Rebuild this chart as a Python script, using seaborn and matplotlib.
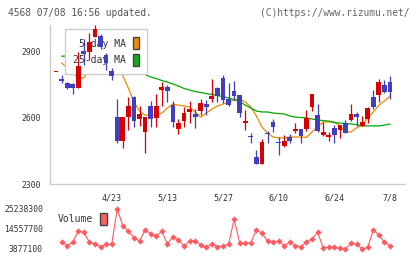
import numpy as np
import pandas as pd
import matplotlib
matplotlib.use("Agg")
import matplotlib.pyplot as plt
from matplotlib.patches import Patch
import seaborn as sns

# ---------------- data ----------------
opens = [2804, 2773, 2755, 2752, 2734, 2900, 2897, 2965, 2969, 2882, 2811,
         2601, 2495, 2604, 2691, 2595, 2536, 2652, 2599, 2725, 2736,
         2656, 2547, 2586, 2626, 2616, 2631, 2661, 2683, 2732, 2777,
         2682, 2720, 2702, 2577, 2517, 2423, 2389, 2532, 2580, 2491,
         2473, 2511, 2540, 2548, 2548, 2649, 2611, 2523, 2513, 2554,
         2544, 2574, 2589, 2616, 2563, 2595, 2691, 2700, 2745, 2760]
highs = [2804, 2792, 2762, 2757, 2894, 2954, 2981, 3017, 2976, 2892, 2823,
         2683, 2601, 2694, 2697, 2652, 2601, 2674, 2706, 2759, 2747,
         2674, 2593, 2647, 2674, 2638, 2682, 2679, 2772, 2739, 2792,
         2754, 2765, 2702, 2634, 2532, 2453, 2503, 2539, 2592, 2511,
         2521, 2524, 2577, 2548, 2634, 2706, 2661, 2581, 2536, 2565,
         2566, 2589, 2661, 2625, 2607, 2646, 2724, 2772, 2769, 2787]
lows = [2804, 2754, 2728, 2706, 2734, 2837, 2859, 2963, 2910, 2814, 2769,
        2486, 2462, 2544, 2559, 2562, 2441, 2559, 2559, 2652, 2671,
        2559, 2526, 2559, 2574, 2554, 2611, 2611, 2671, 2671, 2664,
        2652, 2679, 2601, 2544, 2486, 2389, 2389, 2486, 2536, 2431,
        2468, 2486, 2529, 2486, 2540, 2631, 2536, 2517, 2495, 2486,
        2509, 2529, 2586, 2562, 2563, 2574, 2637, 2671, 2709, 2685]
closes = [2804, 2767, 2733, 2733, 2832, 2888, 2942, 2999, 2917, 2845, 2789,
          2495, 2601, 2652, 2586, 2616, 2601, 2595, 2652, 2736, 2721,
          2581, 2574, 2619, 2638, 2604, 2664, 2649, 2698, 2698, 2679,
          2656, 2698, 2619, 2586, 2511, 2389, 2488, 2524, 2559, 2484,
          2495, 2495, 2548, 2518, 2598, 2706, 2540, 2535, 2521, 2521,
          2566, 2532, 2616, 2604, 2580, 2644, 2649, 2760, 2716, 2716]

ma5 = [np.nan, 2846, 2825, 2800, 2780, 2778, 2826, 2879, 2916, 2918, 2898,
       2840, 2788, 2733, 2670, 2629, 2611, 2611, 2611, 2620, 2643,
       2661, 2656, 2652, 2647, 2625, 2602, 2620, 2638, 2652, 2661,
       2670, 2679, 2683, 2670, 2647, 2607, 2557, 2530, 2512, 2508,
       2508, 2512, 2512, 2512, 2510, 2535, 2557, 2580, 2580, 2580,
       2562, 2535, 2535, 2553, 2566, 2598, 2625, 2656, 2674, 2697]
ma25 = [np.nan, 2877, 2877, 2875, 2875, 2877, 2880, 2882, 2882, 2880, 2876,
        2862, 2850, 2838, 2826, 2805, 2794, 2783, 2776, 2767, 2760,
        2751, 2742, 2731, 2724, 2717, 2713, 2708, 2704, 2699, 2695,
        2688, 2681, 2672, 2656, 2643, 2629, 2625, 2625, 2620, 2618,
        2616, 2607, 2602, 2600, 2598, 2593, 2589, 2586, 2584, 2577,
        2575, 2573, 2571, 2568, 2562, 2562, 2562, 2562, 2566, 2571]

volume = [np.nan, 7780000, 5640000, 7460000, 13500000, 12800000, 7460000,
          6550000, 5110000, 6390000, 6390000, 25240000, 16320000, 13330000,
          9910000, 8150000, 14020000, 12050000, 10820000, 13330000, 6710000,
          10290000, 8680000, 5480000, 8150000, 8150000, 6010000, 4780000,
          6550000, 5110000, 5640000, 6390000, 19740000, 7240000, 6920000,
          7240000, 14020000, 12260000, 8150000, 7460000, 8150000, 5640000,
          7460000, 5640000, 5110000, 7780000, 9220000, 12800000, 4570000,
          4780000, 4780000, 4250000, 3880000, 6920000, 6390000, 3880000,
          4780000, 14020000, 11350000, 7460000, 5640000]

date_labels = ["4/23", "5/13", "5/27", "6/10", "6/24", "7/8"]
date_label_idx = [10, 20, 30, 40, 50, 60]
price_ticks = [2300, 2600, 2900]
volume_ticks = [3877100, 14557700, 25238300]

# ---------------- style ----------------
sns.set_style("white")
plt.rcParams["font.family"] = ["DejaVu Sans Mono", "DejaVu Sans"]

RED = "#d80000"
BLUE = "#3f3fbf"
ORANGE = "#f08a00"
GREEN = "#00a800"
VOLC = "#ff5a60"
AXC = "#cccccc"
TXT = "#333333"

df = pd.DataFrame({"idx": np.arange(len(closes)), "open": opens, "high": highs,
                   "low": lows, "close": closes, "ma5": ma5, "ma25": ma25,
                   "volume": volume})

fig = plt.figure(figsize=(4.2, 2.59), dpi=100)
fig.patch.set_facecolor("white")

W, H = 420.0, 259.0
ax = fig.add_axes([50 / W, 75 / H, 355 / W, 159 / H])
axv = fig.add_axes([50 / W, 5 / H, 355 / W, 52 / H])

xlim = (-1.08, 62.7)

# moving averages
sns.lineplot(data=df, x="idx", y="ma5", ax=ax, color=ORANGE, lw=0.9,
             legend=False, zorder=2)
sns.lineplot(data=df, x="idx", y="ma25", ax=ax, color=GREEN, lw=0.9,
             legend=False, zorder=2)

# candles
up = df["close"] >= df["open"]
cols = np.where(up, RED, BLUE)
body_bottom = np.minimum(df["open"], df["close"])
body_h = np.maximum(np.abs(df["close"] - df["open"]), 4)
ax.vlines(df["idx"], df["low"], df["high"], colors=cols, lw=0.9, zorder=4)
ax.bar(df["idx"], body_h, bottom=body_bottom, width=0.85, color=cols,
       linewidth=0, zorder=4)

ax.set_xlim(*xlim)
ax.set_ylim(2300, 3017.5)
ax.set_xlabel("")
ax.set_ylabel("")
for s in ["top", "right"]:
    ax.spines[s].set_visible(False)
for s in ["left", "bottom"]:
    ax.spines[s].set_color(AXC)
    ax.spines[s].set_linewidth(1)

ax.set_yticks(price_ticks)
ax.set_yticklabels([str(t) for t in price_ticks])
ax.tick_params(axis="y", direction="inout", length=7, width=1, color=AXC,
               labelsize=5.8, labelcolor=TXT, pad=3)
ax.set_xticks(np.linspace(xlim[0], xlim[1], 12))
ax.set_xticklabels([])
ax.tick_params(axis="x", which="major", direction="inout", length=7, width=1,
               color=AXC)
ax.set_xticks(date_label_idx, minor=True)
ax.set_xticklabels(date_labels, minor=True)
ax.tick_params(axis="x", which="minor", length=0, labelsize=6,
               labelcolor=TXT, pad=7)

leg = ax.legend(handles=[Patch(facecolor=ORANGE, edgecolor="#444444", lw=1,
                               label="5-day MA"),
                         Patch(facecolor="#11aa22", edgecolor="#444444", lw=1,
                               label="25-day MA")],
                loc="upper left", bbox_to_anchor=(0.042, 0.975),
                borderaxespad=0, markerfirst=False, fontsize=7.0,
                handlelength=0.65, handleheight=1.55, handletextpad=0.7,
                labelspacing=0.45, borderpad=0.85, fancybox=False,
                frameon=True, framealpha=1, edgecolor=AXC,
                facecolor="white")
leg.get_frame().set_linewidth(1)
for t in leg.get_texts():
    t.set_color(TXT)
leg.set_zorder(3)

# volume
sns.lineplot(data=df, x="idx", y="volume", ax=axv, color=VOLC, lw=0.8,
             marker="D", markersize=3.2, markeredgewidth=0, legend=False,
             zorder=2)
axv.set_xlim(*xlim)
axv.set_ylim(1206950, 28976510)
axv.set_xlabel("")
axv.set_ylabel("")
for s in axv.spines.values():
    s.set_visible(False)
axv.set_xticks([])
axv.set_yticks(volume_ticks)
axv.set_yticklabels([str(t) for t in volume_ticks])
axv.tick_params(axis="y", length=0, labelsize=5.8, labelcolor=TXT, pad=5)
vleg = axv.legend(handles=[Patch(facecolor="#ff6060", edgecolor="#444444",
                                 lw=1, label="Volume")],
                  loc="upper left", bbox_to_anchor=(0.014, 0.85),
                  borderaxespad=0, markerfirst=False, fontsize=7.0,
                  handlelength=0.7, handleheight=1.5, handletextpad=0.7,
                  borderpad=0.3, fancybox=False, frameon=True, framealpha=1,
                  edgecolor="none", facecolor="white")
for t in vleg.get_texts():
    t.set_color(TXT)
vleg.set_zorder(5)

# header texts
fig.text(8 / W, 1 - 12.7 / H, "4568 07/08 16:56 updated.", fontsize=6.9,
         color="#555555", va="center", ha="left")
fig.text(409 / W, 1 - 12.7 / H, "(C)https://www.rizumu.net/", fontsize=6.9,
         color="#666666", va="center", ha="right")

fig.savefig("out.png", dpi=100, facecolor="white")
